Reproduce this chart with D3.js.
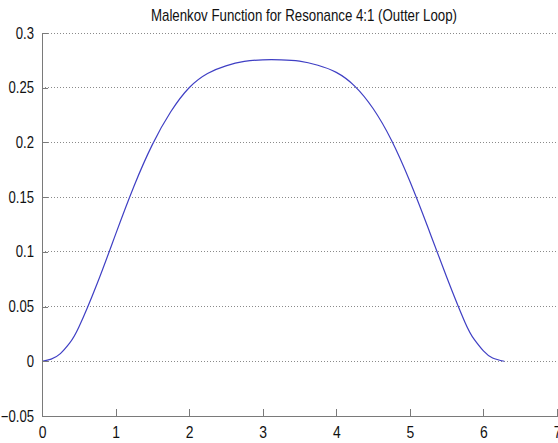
<!DOCTYPE html>
<html>
<head>
<meta charset="utf-8">
<script src="https://cdn.jsdelivr.net/npm/d3@7"></script>
<style>
  html, body { margin: 0; padding: 0; background: #fff; }
  svg { display: block; }
</style>
</head>
<body>
<svg id="chart" width="558" height="443"></svg>
<script>
// Angle samples (radians) over one revolution
const theta = [0, 0.125, 0.25, 0.375, 0.5, 0.75, 1.0, 1.25, 1.5, 1.75, 2.0, 2.25, 2.5, 2.75, 3.0,
               3.25, 3.5, 3.75, 4.0, 4.25, 4.5, 4.75, 5.0, 5.25, 5.5, 5.75, 5.875, 6.0, 6.125, 6.2832];
// Malenkov function values at those angles
const malenkov = [0, 0.002, 0.007, 0.0165, 0.031, 0.071, 0.116, 0.160, 0.198, 0.228, 0.250, 0.263, 0.270, 0.274, 0.2755,
                  0.2755, 0.2743, 0.2705, 0.264, 0.2515, 0.231, 0.202, 0.1645, 0.1215, 0.077, 0.0355, 0.020, 0.0095, 0.003, 0];

const xTicks = [0, 1, 2, 3, 4, 5, 6, 7];
const yTicks = [-0.05, 0, 0.05, 0.1, 0.15, 0.2, 0.25, 0.3];
const titleText = "Malenkov Function for Resonance 4:1 (Outter Loop)";

const svg = d3.select("#chart");
const W = 558, H = 443;
const m = { left: 42, right: 1, top: 33, bottom: 27 };

const x = d3.scaleLinear().domain([0, 7]).range([m.left, W - m.right]);
const y = d3.scaleLinear().domain([-0.05, 0.3]).range([H - m.bottom, m.top]);

// Regular sans, horizontally squeezed to a narrow look
const fontFamily = "'Liberation Sans', Arial, sans-serif";
const squeeze = 0.82;

// Dotted horizontal grid
svg.append("g")
  .selectAll("line")
  .data(yTicks.filter(d => d > -0.05))
  .join("line")
  .attr("x1", x(0)).attr("x2", x(7))
  .attr("y1", d => y(d)).attr("y2", d => y(d))
  .attr("stroke", "#8a8a8a")
  .attr("stroke-width", 1)
  .attr("stroke-dasharray", "1,2")
  .attr("shape-rendering", "crispEdges");

// Curve
const line = d3.line()
  .x((d, i) => x(theta[i]))
  .y(d => y(d))
  .curve(d3.curveNatural);

svg.append("path")
  .datum(malenkov)
  .attr("d", line)
  .attr("fill", "none")
  .attr("stroke", "#3f3fc4")
  .attr("stroke-width", 1.2);

// Axes with inward ticks
const fmt = d => d3.format("")(+d.toFixed(2));

const gx = svg.append("g")
  .attr("transform", `translate(0,${y(-0.05)})`)
  .call(d3.axisBottom(x).tickValues(xTicks).tickFormat(fmt).tickSizeInner(-7).tickSizeOuter(0).tickPadding(10));

const gy = svg.append("g")
  .attr("transform", `translate(${x(0)},0)`)
  .call(d3.axisLeft(y).tickValues(yTicks).tickFormat(fmt).tickSizeInner(-6).tickSizeOuter(0).tickPadding(8));

[gx, gy].forEach(g => {
  g.select(".domain").attr("stroke", "#7a7a7a").attr("shape-rendering", "crispEdges");
  g.selectAll(".tick line").attr("stroke", "#7a7a7a").attr("shape-rendering", "crispEdges");
  g.selectAll(".tick text")
    .attr("fill", "#111")
    .style("font-family", fontFamily);
});
gy.selectAll(".tick text").style("font-size", "16px");
gx.selectAll(".tick text").style("font-size", "17px");

gy.selectAll(".tick text").each(function () {
  const t = d3.select(this);
  const x0 = +t.attr("x");
  t.attr("x", x0 / squeeze).attr("transform", `scale(${squeeze},1)`);
});
gx.selectAll(".tick text").attr("transform", `scale(${squeeze},1)`);

// Title
svg.append("g")
  .attr("transform", `translate(304,21)`)
  .append("text")
  .attr("text-anchor", "middle")
  .attr("transform", `scale(${squeeze},1)`)
  .style("font-family", fontFamily)
  .style("font-size", "16.2px")
  .attr("fill", "#111")
  .text(titleText);
</script>
</body>
</html>
